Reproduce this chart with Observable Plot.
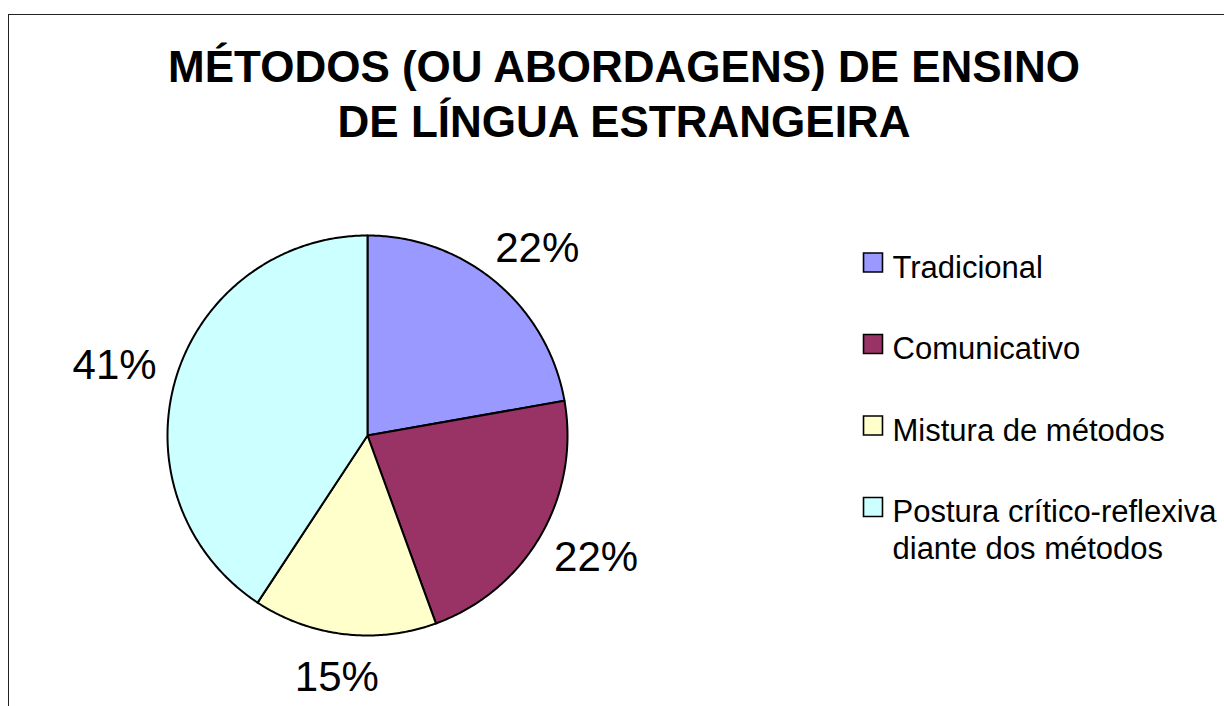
<!DOCTYPE html>
<html>
<head>
<meta charset="utf-8">
<script src="https://cdn.jsdelivr.net/npm/d3@7"></script>
<script src="https://cdn.jsdelivr.net/npm/@observablehq/plot@0.6"></script>
<style>
  html, body { margin: 0; padding: 0; background: #fff; overflow: hidden; width: 1224px; height: 706px; }
  #frame { position: absolute; left: 8px; top: 14px; width: 1400px; height: 900px;
           border-left: 1.5px solid #222; border-top: 1.5px solid #222; }
  #title { position: absolute; left: 0; top: 39px; width: 1248px; text-align: center;
           font-family: "Liberation Sans", Arial, sans-serif; font-weight: bold; font-size: 44px;
           line-height: 55px; color: #000; }
  #chart { position: absolute; left: 0; top: 0; }
</style>
</head>
<body>
<div id="frame"></div>
<div id="title">MÉTODOS (OU ABORDAGENS) DE ENSINO<br>DE LÍNGUA ESTRANGEIRA</div>
<div id="chart"></div>
<script>
// ---- data ----
const categories = ["Tradicional", "Comunicativo", "Mistura de métodos", "Postura crítico-reflexiva diante dos métodos"];
const shares = [22.2, 22.2, 14.8, 40.7];
const legendLabels = ["Tradicional", "Comunicativo", "Mistura de métodos", "Postura crítico-reflexiva\ndiante dos métodos"];
const sliceColors = ["#9999FF", "#993366", "#FFFFCC", "#CCFFFF"];

// ---- layout ----
const W = 1224, H = 706;
const cx = 367, cy = 435, R = 200;
const labelRx = R * 1.32, labelRy = R * 1.22;
const legendX = 872.5, legendTextX = 892, legendY0 = 262, legendStep = 81.5;
const legendFont = 31;

const data = categories.map((name, i) => ({name, value: shares[i]}));
const arcs = d3.pie().sort(null).value(d => d.value)(data);
const total = d3.sum(shares);

// slice outlines: centre -> arc -> centre
const slicePts = [];
arcs.forEach(a => {
  const name = a.data.name;
  slicePts.push({name, x: cx, y: cy});
  const n = Math.max(2, Math.ceil((a.endAngle - a.startAngle) / 0.01));
  for (let k = 0; k <= n; k++) {
    const t = a.startAngle + (a.endAngle - a.startAngle) * k / n;
    slicePts.push({name, x: cx + R * Math.sin(t), y: cy - R * Math.cos(t)});
  }
  slicePts.push({name, x: cx, y: cy});
});

const labels = arcs.map(a => {
  const m = (a.startAngle + a.endAngle) / 2;
  return {
    text: Math.round(a.data.value / total * 100) + "%",
    x: cx + labelRx * Math.sin(m),
    y: cy - labelRy * Math.cos(m)
  };
});

const legend = categories.map((name, i) => ({
  name, label: legendLabels[i], x: legendX, tx: legendTextX, y: legendY0 + i * legendStep
}));

const chart = Plot.plot({
  width: W, height: H,
  margin: 0,
  x: {domain: [0, W], range: [0, W], axis: null},
  y: {domain: [0, H], range: [0, H], axis: null},
  color: {domain: categories, range: sliceColors},
  style: {background: "transparent", fontFamily: "'Liberation Sans', Arial, sans-serif", color: "#000"},
  marks: [
    Plot.line(slicePts, {x: "x", y: "y", z: "name", fill: "name", stroke: "#000", strokeWidth: 2, strokeLinejoin: "round"}),
    Plot.text(labels, {x: "x", y: "y", text: "text", fontSize: 42, fill: "#000"}),
    Plot.dot(legend, {x: "x", y: "y", symbol: "square", r: 10.7, fill: "name", stroke: "#000", strokeWidth: 1.6}),
    Plot.text(legend, {x: "tx", y: d => d.y - 0.36 * legendFont, text: "label", textAnchor: "start", lineAnchor: "top",
                       fontSize: legendFont, lineHeight: 1.19, fill: "#000"})
  ]
});
document.getElementById("chart").appendChild(chart);
</script>
</body>
</html>
